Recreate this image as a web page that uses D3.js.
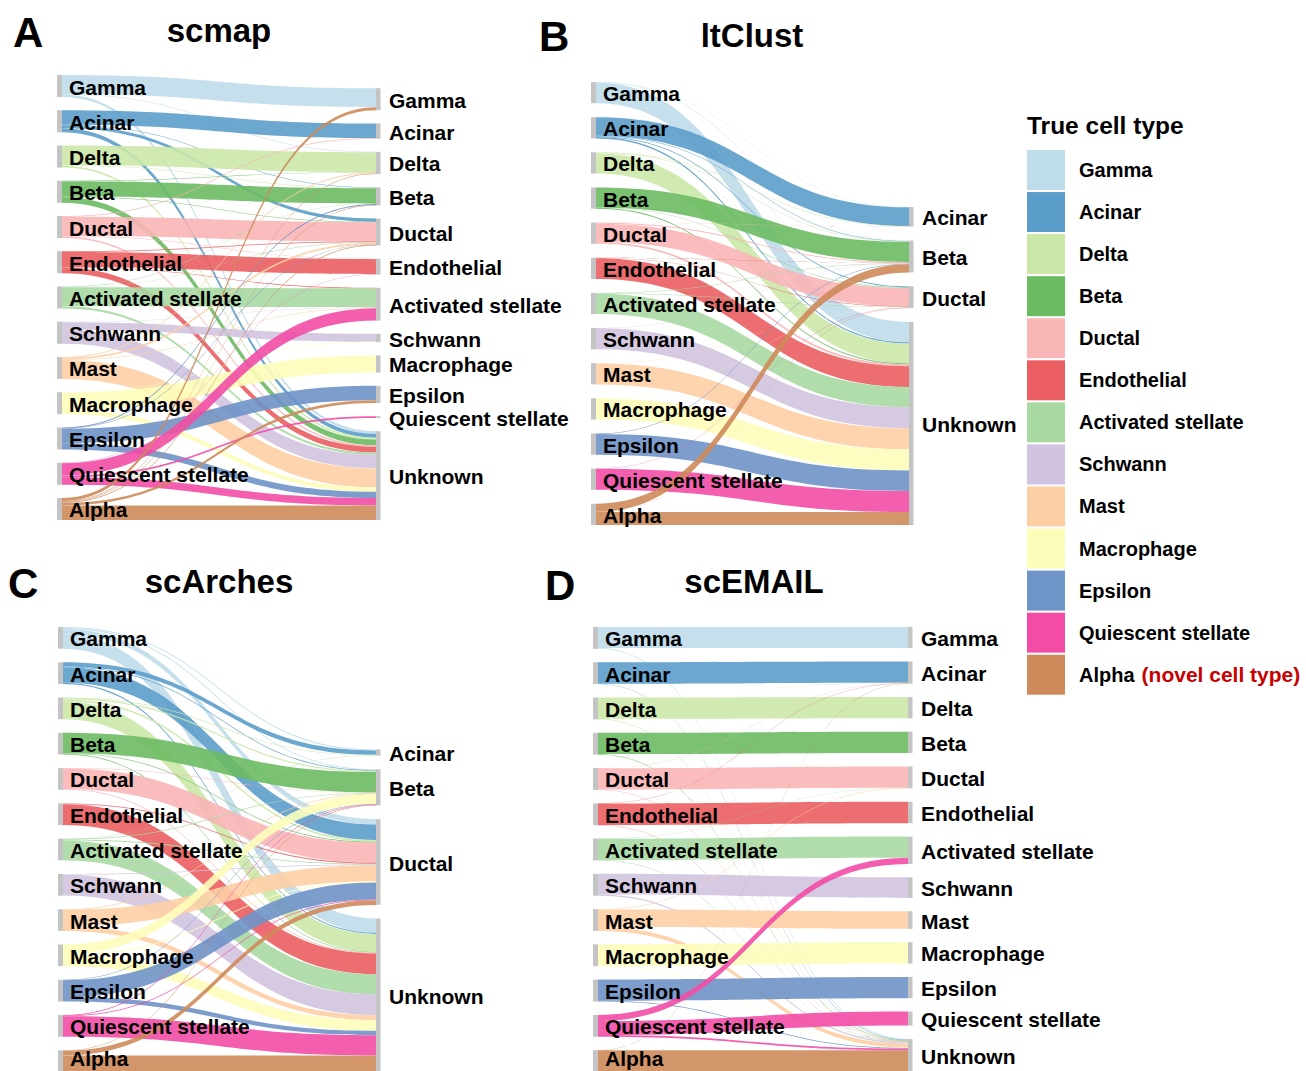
<!DOCTYPE html>
<html>
<head>
<meta charset="utf-8">
<script src="https://cdn.jsdelivr.net/npm/d3@7"></script>
<style>
  body { margin: 0; background: #fff; }
  svg { display: block; }
  text { font-family: "Liberation Sans", Arial, sans-serif; font-weight: bold; fill: #000; }
</style>
</head>
<body>
<svg id="chart" width="1306" height="1071"></svg>
<script>
// True cell types (left column of every panel) and their colours
const trueTypes = ["Gamma", "Acinar", "Delta", "Beta", "Ductal", "Endothelial",
  "Activated stellate", "Schwann", "Mast", "Macrophage", "Epsilon",
  "Quiescent stellate", "Alpha"];
const typeColors = ["#bfdcea", "#5b9dca", "#cbe8aa", "#6bbb63", "#fab5b6", "#ea5e61",
  "#a8d9a3", "#d2c4e0", "#fdcfa5", "#fdfdba", "#6f94c7", "#f24ca6", "#ce8a5a"];

// Predicted labels (right column) for each method
const scmapTargets = ["Gamma", "Acinar", "Delta", "Beta", "Ductal", "Endothelial",
  "Activated stellate", "Schwann", "Macrophage", "Epsilon", "Quiescent stellate", "Unknown"];
const itclustTargets = ["Acinar", "Beta", "Ductal", "Unknown"];
const scarchesTargets = ["Acinar", "Beta", "Ductal", "Unknown"];
const scemailTargets = ["Gamma", "Acinar", "Delta", "Beta", "Ductal", "Endothelial",
  "Activated stellate", "Schwann", "Mast", "Macrophage", "Epsilon", "Quiescent stellate", "Unknown"];

// Flows: [true type, predicted label, % of the true type's cells]
const scmapFlows = [
  ["Gamma", "Gamma", 86], ["Gamma", "Delta", 2], ["Gamma", "Unknown", 12],
  ["Acinar", "Acinar", 66], ["Acinar", "Beta", 2], ["Acinar", "Ductal", 14], ["Acinar", "Unknown", 18],
  ["Delta", "Delta", 90], ["Delta", "Beta", 2], ["Delta", "Unknown", 8],
  ["Beta", "Delta", 2], ["Beta", "Beta", 70], ["Beta", "Ductal", 2], ["Beta", "Unknown", 26],
  ["Ductal", "Acinar", 3], ["Ductal", "Ductal", 88], ["Ductal", "Endothelial", 2], ["Ductal", "Unknown", 7],
  ["Endothelial", "Ductal", 3], ["Endothelial", "Endothelial", 68], ["Endothelial", "Activated stellate", 3], ["Endothelial", "Unknown", 26],
  ["Activated stellate", "Beta", 2], ["Activated stellate", "Ductal", 2], ["Activated stellate", "Activated stellate", 86], ["Activated stellate", "Unknown", 10],
  ["Schwann", "Activated stellate", 2], ["Schwann", "Schwann", 36], ["Schwann", "Unknown", 62],
  ["Mast", "Delta", 4], ["Mast", "Ductal", 8], ["Mast", "Activated stellate", 2], ["Mast", "Unknown", 86],
  ["Macrophage", "Schwann", 2], ["Macrophage", "Macrophage", 78], ["Macrophage", "Unknown", 20],
  ["Epsilon", "Beta", 4], ["Epsilon", "Ductal", 2], ["Epsilon", "Epsilon", 66], ["Epsilon", "Unknown", 28],
  ["Quiescent stellate", "Endothelial", 2], ["Quiescent stellate", "Activated stellate", 56], ["Quiescent stellate", "Quiescent stellate", 8], ["Quiescent stellate", "Unknown", 34],
  ["Alpha", "Gamma", 14], ["Alpha", "Delta", 3], ["Alpha", "Beta", 2], ["Alpha", "Ductal", 3], ["Alpha", "Epsilon", 12], ["Alpha", "Unknown", 66]
];
const itclustFlows = [
  ["Gamma", "Acinar", 1], ["Gamma", "Beta", 2], ["Gamma", "Ductal", 1], ["Gamma", "Unknown", 96],
  ["Acinar", "Acinar", 88], ["Acinar", "Beta", 2], ["Acinar", "Ductal", 4], ["Acinar", "Unknown", 6],
  ["Delta", "Acinar", 2], ["Delta", "Beta", 3], ["Delta", "Ductal", 1], ["Delta", "Unknown", 94],
  ["Beta", "Beta", 94], ["Beta", "Ductal", 2], ["Beta", "Unknown", 4],
  ["Ductal", "Acinar", 1], ["Ductal", "Beta", 4], ["Ductal", "Ductal", 86], ["Ductal", "Unknown", 9],
  ["Endothelial", "Beta", 1], ["Endothelial", "Ductal", 2], ["Endothelial", "Unknown", 97],
  ["Activated stellate", "Beta", 2], ["Activated stellate", "Ductal", 2], ["Activated stellate", "Unknown", 96],
  ["Schwann", "Beta", 1], ["Schwann", "Unknown", 99],
  ["Mast", "Ductal", 1], ["Mast", "Unknown", 99],
  ["Macrophage", "Ductal", 1], ["Macrophage", "Unknown", 99],
  ["Epsilon", "Beta", 3], ["Epsilon", "Unknown", 97],
  ["Quiescent stellate", "Ductal", 1], ["Quiescent stellate", "Unknown", 99],
  ["Alpha", "Beta", 38], ["Alpha", "Ductal", 1], ["Alpha", "Unknown", 61]
];
const scarchesFlows = [
  ["Gamma", "Acinar", 5], ["Gamma", "Beta", 4], ["Gamma", "Ductal", 25], ["Gamma", "Unknown", 66],
  ["Acinar", "Acinar", 20], ["Acinar", "Beta", 3], ["Acinar", "Ductal", 72], ["Acinar", "Unknown", 5],
  ["Delta", "Acinar", 3], ["Delta", "Beta", 6], ["Delta", "Ductal", 8], ["Delta", "Unknown", 83],
  ["Beta", "Beta", 94], ["Beta", "Ductal", 3], ["Beta", "Unknown", 3],
  ["Ductal", "Beta", 2], ["Ductal", "Ductal", 94], ["Ductal", "Unknown", 4],
  ["Endothelial", "Ductal", 4], ["Endothelial", "Unknown", 96],
  ["Activated stellate", "Acinar", 1], ["Activated stellate", "Beta", 3], ["Activated stellate", "Ductal", 4], ["Activated stellate", "Unknown", 92],
  ["Schwann", "Ductal", 3], ["Schwann", "Unknown", 97],
  ["Mast", "Beta", 3], ["Mast", "Ductal", 75], ["Mast", "Unknown", 22],
  ["Macrophage", "Beta", 45], ["Macrophage", "Ductal", 5], ["Macrophage", "Unknown", 50],
  ["Epsilon", "Beta", 2], ["Epsilon", "Ductal", 78], ["Epsilon", "Unknown", 20],
  ["Quiescent stellate", "Beta", 3], ["Quiescent stellate", "Ductal", 3], ["Quiescent stellate", "Unknown", 94],
  ["Alpha", "Beta", 2], ["Alpha", "Ductal", 22], ["Alpha", "Unknown", 76]
];
const scemailFlows = [
  ["Gamma", "Gamma", 96], ["Gamma", "Unknown", 4],
  ["Acinar", "Acinar", 98], ["Acinar", "Unknown", 2],
  ["Delta", "Acinar", 1], ["Delta", "Delta", 97], ["Delta", "Unknown", 2],
  ["Beta", "Beta", 98], ["Beta", "Unknown", 2],
  ["Ductal", "Acinar", 1], ["Ductal", "Ductal", 97], ["Ductal", "Unknown", 2],
  ["Endothelial", "Acinar", 1], ["Endothelial", "Endothelial", 98], ["Endothelial", "Unknown", 1],
  ["Activated stellate", "Ductal", 1], ["Activated stellate", "Activated stellate", 97], ["Activated stellate", "Unknown", 2],
  ["Schwann", "Schwann", 94], ["Schwann", "Unknown", 6],
  ["Mast", "Ductal", 2], ["Mast", "Mast", 80], ["Mast", "Unknown", 18],
  ["Macrophage", "Macrophage", 98], ["Macrophage", "Unknown", 2],
  ["Epsilon", "Epsilon", 97], ["Epsilon", "Unknown", 3],
  ["Quiescent stellate", "Activated stellate", 28], ["Quiescent stellate", "Quiescent stellate", 64], ["Quiescent stellate", "Unknown", 8],
  ["Alpha", "Acinar", 1], ["Alpha", "Unknown", 99]
];

const panelLetters = ["A", "B", "C", "D"];
const panelTitles = ["scmap", "ltClust", "scArches", "scEMAIL"];
const legendTitle = "True cell type";
const novelNote = "(novel cell type)";

const svg = d3.select("#chart");
const color = d3.scaleOrdinal().domain(trueTypes).range(typeColors);
const H = 1071;

// Alluvial panel: left strata stacked from the top, right strata bottom-aligned
function drawAlluvial(cfg) {
  const { targets, flows, xL, xR, top, bottom, gap } = cfg;
  const g = svg.append("g");
  const barL = 5, barR = 4.5;
  const srcIndex = new Map(trueTypes.map((d, i) => [d, i]));
  const tgtIndex = new Map(targets.map((d, i) => [d, i]));
  const srcTot = trueTypes.map(s => d3.sum(flows.filter(f => f[0] === s), f => f[2]));
  const tgtTot = targets.map(t => d3.sum(flows.filter(f => f[1] === t), f => f[2]));
  const total = d3.sum(srcTot);
  const k = d3.scaleLinear().domain([0, total])
    .range([0, (bottom - top) - gap * (trueTypes.length - 1)]);

  const leftNodes = [];
  let y = top;
  trueTypes.forEach((s, i) => { leftNodes.push({ name: s, y0: y, y1: y + k(srcTot[i]) }); y += k(srcTot[i]) + gap; });
  const rightSpan = k(total) + gap * (targets.length - 1);
  const rightNodes = [];
  y = bottom - rightSpan;
  targets.forEach((t, i) => { rightNodes.push({ name: t, y0: y, y1: y + k(tgtTot[i]) }); y += k(tgtTot[i]) + gap; });

  const links = flows.map(f => ({ s: srcIndex.get(f[0]), t: tgtIndex.get(f[1]), v: f[2], src: f[0] }));
  // offsets on the left: within each source, ordered by target
  const offL = leftNodes.map(n => n.y0);
  links.slice().sort((a, b) => a.s - b.s || a.t - b.t).forEach(l => {
    l.ys0 = offL[l.s]; offL[l.s] += k(l.v); l.ys1 = offL[l.s];
  });
  // offsets on the right: within each target, ordered by source
  const offR = rightNodes.map(n => n.y0);
  links.slice().sort((a, b) => a.t - b.t || a.s - b.s).forEach(l => {
    l.yt0 = offR[l.t]; offR[l.t] += k(l.v); l.yt1 = offR[l.t];
  });

  const x0 = xL + barL, x1 = xR, xm = (x0 + x1) / 2;
  const ribbon = l => {
    const p = d3.path();
    p.moveTo(x0, l.ys0);
    p.bezierCurveTo(xm, l.ys0, xm, l.yt0, x1, l.yt0);
    p.lineTo(x1, l.yt1);
    p.bezierCurveTo(xm, l.yt1, xm, l.ys1, x0, l.ys1);
    p.closePath();
    return p.toString();
  };

  g.append("g").selectAll("path")
    .data(links.slice().sort((a, b) => a.s - b.s || a.t - b.t))
    .join("path")
    .attr("d", ribbon)
    .attr("fill", l => color(l.src))
    .attr("fill-opacity", 0.9);

  g.append("g").selectAll("rect").data(leftNodes).join("rect")
    .attr("x", xL).attr("y", d => d.y0).attr("width", barL).attr("height", d => d.y1 - d.y0)
    .attr("fill", "#c4c4c4");
  g.append("g").selectAll("rect").data(rightNodes).join("rect")
    .attr("x", xR).attr("y", d => d.y0).attr("width", barR).attr("height", d => Math.max(1, d.y1 - d.y0))
    .attr("fill", "#c4c4c4");

  // labels are kept inside the drawing area at the bottom edge
  g.append("g").selectAll("text").data(leftNodes).join("text")
    .attr("x", xL + 12).attr("y", d => Math.min((d.y0 + d.y1) / 2 + 8.5, H - 5))
    .style("font-size", "21px").text(d => d.name);
  g.append("g").selectAll("text").data(rightNodes).join("text")
    .attr("x", xR + 13).attr("y", d => Math.min((d.y0 + d.y1) / 2 + 8.5, H - 5))
    .style("font-size", "21px").text(d => d.name);
}

const panels = [
  { targets: scmapTargets, flows: scmapFlows, xL: 57, xR: 376, top: 75, bottom: 520, gap: 13.2,
    letter: [13, 47], title: [219, 42] },
  { targets: itclustTargets, flows: itclustFlows, xL: 591, xR: 909, top: 82, bottom: 525, gap: 13.9,
    letter: [539, 51], title: [752, 47] },
  { targets: scarchesTargets, flows: scarchesFlows, xL: 58, xR: 376, top: 627, bottom: 1072, gap: 13.6,
    letter: [8, 598], title: [219, 593] },
  { targets: scemailTargets, flows: scemailFlows, xL: 593, xR: 908, top: 627, bottom: 1072, gap: 13.4,
    letter: [545, 600], title: [754, 593] }
];

panels.forEach((p, i) => {
  drawAlluvial(p);
  svg.append("text").attr("x", p.letter[0]).attr("y", p.letter[1])
    .style("font-size", "42px").text(panelLetters[i]);
  svg.append("text").attr("x", p.title[0]).attr("y", p.title[1])
    .attr("text-anchor", "middle").style("font-size", "33px").text(panelTitles[i]);
});

// Legend
const leg = svg.append("g").attr("transform", "translate(1027,0)");
leg.append("text").attr("x", 0).attr("y", 134).style("font-size", "24.5px").text(legendTitle);
const ly = d3.scaleBand().domain(trueTypes).range([150, 150 + 41.9 * trueTypes.length]).paddingInner(0.05).paddingOuter(0);
const items = leg.selectAll("g.item").data(trueTypes).join("g").attr("class", "item")
  .attr("transform", d => `translate(0,${ly(d)})`);
items.append("rect").attr("width", 38).attr("height", ly.bandwidth()).attr("fill", d => color(d));
const lbl = items.append("text").attr("x", 52).attr("y", ly.bandwidth() / 2 + 7)
  .style("font-size", "20px").text(d => d);
lbl.filter(d => d === "Alpha").append("tspan").attr("dx", 7)
  .style("fill", "#c80000").style("font-size", "21px").text(novelNote);
</script>
</body>
</html>
